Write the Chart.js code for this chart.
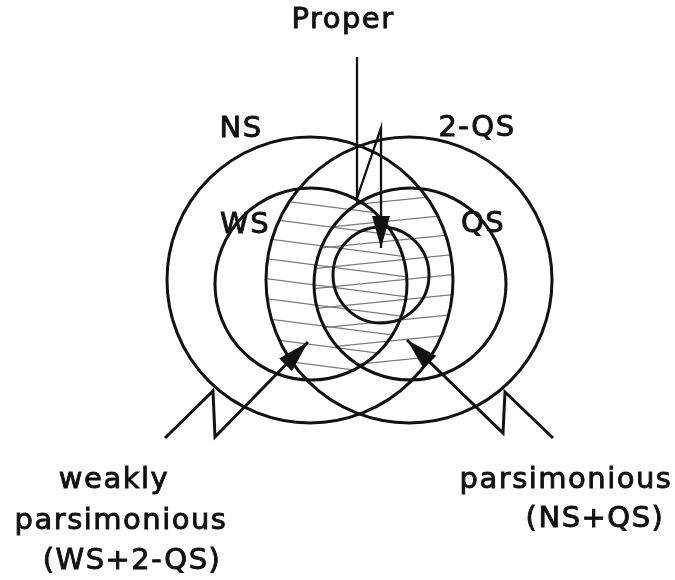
<!DOCTYPE html>
<html>
<head>
<meta charset="utf-8">
<script src="https://cdn.jsdelivr.net/npm/chart.js@4/dist/chart.umd.min.js"></script>
<style>
  html, body { margin: 0; padding: 0; background: #fff; }
  #wrap { width: 675px; height: 580px; position: relative; }
</style>
</head>
<body>
<div id="wrap"><canvas id="venn"></canvas></div>
<script>
// circles: NS, 2-QS, WS, QS, inner
const circleNames = ['NS', '2-QS', 'WS', 'QS', 'inner'];
const circleX = [310, 409, 311, 410, 381];
const circleY = [280, 280, 284, 284, 275];
const circleR = [143, 143, 96, 96, 48];

// hatched lenses (index pairs into the circle arrays): WS+2-QS, NS+QS
const hatchPairs = [[2, 1], [0, 3]];

// arrow polylines
const properX = [357, 357, 381, 381];
const properY = [57, 198, 128, 248];
const weakX = [165, 213, 215, 308];
const weakY = [438, 391, 437, 342];
const parsX = [553, 505, 503, 407];
const parsY = [438, 392, 433, 340];

// text labels
const labelText = ['Proper', 'NS', '2-QS', 'WS', 'QS',
    'weakly', 'parsimonious', '(WS+2-QS)', 'parsimonious', '(NS+QS)'];
const labelX = [343, 241, 477, 245, 483, 114, 121, 132, 566, 595];
const labelY = [28, 137, 136, 233, 232, 488, 529, 569, 488, 527];

function toPoints(xs, ys) {
    return xs.map((x, i) => ({ x: x, y: ys[i] }));
}

function arrowDataset(xs, ys, width) {
    return {
        type: 'scatter',
        data: toPoints(xs, ys),
        showLine: true,
        borderColor: '#111',
        borderWidth: width,
        pointRadius: 0,
        fill: false,
        clip: false,
        arrowHead: true
    };
}

const hatchPlugin = {
    id: 'hatch',
    beforeDatasetsDraw(chart) {
        const ctx = chart.ctx;
        const sx = chart.scales.x, sy = chart.scales.y;
        hatchPairs.forEach((pair, k) => {
            ctx.save();
            pair.forEach(i => {
                ctx.beginPath();
                ctx.arc(sx.getPixelForValue(circleX[i]), sy.getPixelForValue(circleY[i]), circleR[i], 0, Math.PI * 2);
                ctx.clip();
            });
            ctx.strokeStyle = '#7a7a7a';
            ctx.lineWidth = 1.2;
            const slope = k === 0 ? 0.13 : -0.1;
            const offset = k === 0 ? 0 : 10;
            for (let y = 150 + offset; y < 420; y += 20) {
                ctx.beginPath();
                ctx.moveTo(200, y);
                ctx.lineTo(520, y + slope * 320);
                ctx.stroke();
            }
            ctx.restore();
        });
    }
};

const arrowHeadPlugin = {
    id: 'arrowHeads',
    afterDatasetsDraw(chart) {
        const ctx = chart.ctx;
        chart.data.datasets.forEach((ds, di) => {
            if (!ds.arrowHead) return;
            const pts = chart.getDatasetMeta(di).data;
            const a = pts[pts.length - 2], b = pts[pts.length - 1];
            const ang = Math.atan2(b.y - a.y, b.x - a.x);
            const len = 32, half = 9;
            ctx.save();
            ctx.translate(b.x, b.y);
            ctx.rotate(ang);
            ctx.beginPath();
            ctx.moveTo(0, 0);
            ctx.lineTo(-len, -half);
            ctx.lineTo(-len, half);
            ctx.closePath();
            ctx.fillStyle = '#111';
            ctx.fill();
            ctx.restore();
        });
    }
};

const labelPlugin = {
    id: 'labels',
    afterDatasetsDraw(chart) {
        const ctx = chart.ctx;
        const sx = chart.scales.x, sy = chart.scales.y;
        ctx.save();
        ctx.font = '29px "DejaVu Sans"';
        ctx.letterSpacing = '1.5px';
        ctx.fillStyle = '#111';
        ctx.strokeStyle = '#111';
        ctx.lineWidth = 0.9;
        ctx.textAlign = 'center';
        ctx.textBaseline = 'alphabetic';
        labelText.forEach((t, i) => {
            const px = sx.getPixelForValue(labelX[i]), py = sy.getPixelForValue(labelY[i]);
            ctx.fillText(t, px, py);
            ctx.strokeText(t, px, py);
        });
        ctx.restore();
    }
};

new Chart(document.getElementById('venn'), {
    type: 'scatter',
    data: {
        datasets: [
            {
                type: 'bubble',
                label: 'circles',
                data: circleX.map((x, i) => ({ x: x, y: circleY[i], r: circleR[i] })),
                backgroundColor: 'rgba(0,0,0,0)',
                borderColor: '#111',
                borderWidth: 3,
                hoverRadius: 0,
                clip: false
            },
            arrowDataset(properX, properY, 2.3),
            arrowDataset(weakX, weakY, 3),
            arrowDataset(parsX, parsY, 3)
        ]
    },
    options: {
        responsive: true,
        maintainAspectRatio: false,
        animation: false,
        events: [],
        layout: { padding: 0, autoPadding: false },
        plugins: {
            legend: { display: false },
            tooltip: { enabled: false }
        },
        scales: {
            x: { type: 'linear', min: 0, max: 675, display: false },
            y: { type: 'linear', min: 0, max: 580, reverse: true, display: false }
        }
    },
    plugins: [hatchPlugin, arrowHeadPlugin, labelPlugin]
});
</script>
</body>
</html>
